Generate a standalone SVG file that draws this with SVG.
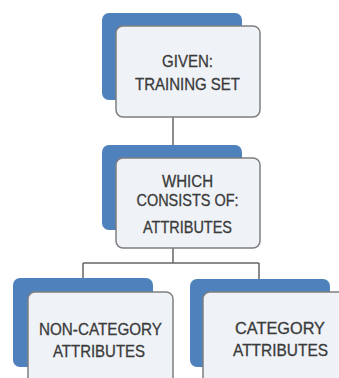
<svg xmlns="http://www.w3.org/2000/svg" width="339" height="378" viewBox="0 0 339 378">
<style>
.bk{fill:#4f81bd}
.fr{fill:#eff2f7;stroke:#7f7f7f;stroke-width:1.5}
.t{font-family:"Liberation Sans",Arial,sans-serif;font-size:16.5px;fill:#3a3a3a;stroke:#3a3a3a;stroke-width:0.3;text-anchor:middle}
.c{fill:none;stroke:#666;stroke-width:1.5}
</style>
<rect width="339" height="378" fill="#fff"/>
<g id="connectors">
<path class="c" d="M173 117V158"/>
<path class="c" d="M173 248V263M83 263H259M83 263V279M259 263V279"/>
</g>
<g id="n1">
<rect class="bk" x="102" y="13" width="140" height="87" rx="7"/>
<rect class="fr" x="116" y="26" width="144" height="91" rx="7"/>
<text class="t" x="187.5" y="67" textLength="51" lengthAdjust="spacingAndGlyphs">GIVEN:</text>
<text class="t" x="187.5" y="90" textLength="105" lengthAdjust="spacingAndGlyphs">TRAINING SET</text>
</g>
<g id="n2">
<rect class="bk" x="102" y="145" width="140" height="85" rx="7"/>
<rect class="fr" x="116" y="158" width="144" height="90" rx="7"/>
<text class="t" x="187.5" y="187" textLength="51" lengthAdjust="spacingAndGlyphs">WHICH</text>
<text class="t" x="187.5" y="206" textLength="102" lengthAdjust="spacingAndGlyphs">CONSISTS OF:</text>
<text class="t" x="187.5" y="233" textLength="89" lengthAdjust="spacingAndGlyphs">ATTRIBUTES</text>
</g>
<g id="n3">
<rect class="bk" x="13" y="278" width="140" height="89" rx="7"/>
<rect class="fr" x="28" y="292" width="145" height="100" rx="7"/>
<text class="t" x="100.5" y="335" textLength="123" lengthAdjust="spacingAndGlyphs">NON-CATEGORY</text>
<text class="t" x="99" y="357" textLength="92" lengthAdjust="spacingAndGlyphs">ATTRIBUTES</text>
</g>
<g id="n4">
<rect class="bk" x="190" y="279" width="140" height="88" rx="7"/>
<rect class="fr" x="203" y="292" width="145" height="100" rx="7"/>
<text class="t" x="280" y="334" textLength="90" lengthAdjust="spacingAndGlyphs">CATEGORY</text>
<text class="t" x="280.5" y="356" textLength="95" lengthAdjust="spacingAndGlyphs">ATTRIBUTES</text>
</g>
</svg>
